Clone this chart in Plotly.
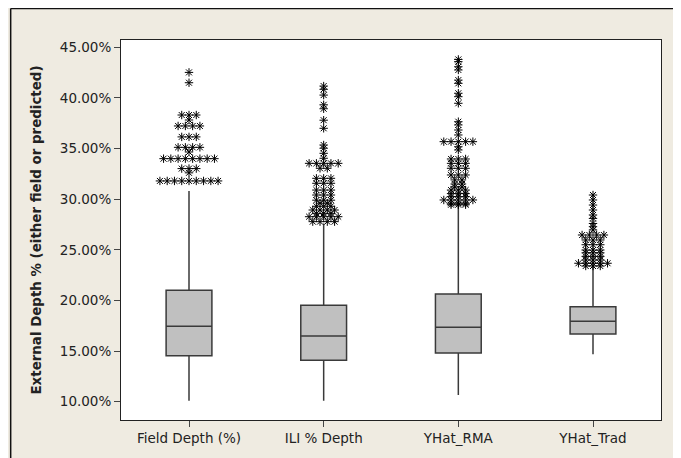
import plotly.graph_objects as go
from collections import OrderedDict

categories = ["Field Depth (%)", "ILI % Depth", "YHat_RMA", "YHat_Trad"]
q1 = [14.54, 14.09, 14.81, 16.69]
median = [17.45, 16.49, 17.35, 17.94]
q3 = [21.00, 19.52, 20.64, 19.38]
lower_whisker = [10.10, 10.10, 10.66, 14.68]
upper_whisker = [30.80, 27.60, 29.40, 23.30]

field_outliers = [42.52, 41.50] + [38.31] * 3 + [37.82] + [37.23] * 4 + [36.15] * 3 + \
    [35.12] * 4 + [34.66] + [34.00] * 8 + [33.02] * 3 + [32.60] + [31.80] * 9
ili_outliers = [41.17, 40.85, 40.28, 39.32, 38.93, 37.80, 37.00, 35.35, 35.03, 34.53, 34.04] + \
    [33.54] * 5 + [33.05] * 2 + [32.06] * 3 + [31.57] * 3 + [30.90] * 3 + [30.41] * 3 + \
    [29.90] * 3 + [29.60] * 2 + [29.30] * 3 + [28.93] * 4 + [28.60] * 3 + [28.27] * 5 + [27.78] * 4
rma_outliers = [43.80, 43.58, 43.08, 42.76, 41.76, 41.44, 40.46, 40.12, 39.47, 37.65, 37.33,
                36.83, 36.34] + [35.68] * 5 + [35.18, 34.86] + [33.97] * 3 + [33.54] * 3 + \
    [33.05] * 3 + [32.39] * 3 + [31.90] * 2 + [31.50] * 2 + [31.20] * 2 + [30.90] * 3 + \
    [30.55] * 3 + [30.25] * 3 + [29.92] * 5 + [29.60] * 3 + [29.45] * 3
trad_outliers = [30.41, 29.92, 29.42, 28.93, 28.44, 28.10, 27.60, 27.28, 26.96] + [26.46] * 4 + \
    [25.97] * 3 + [25.50] * 3 + [24.98] * 3 + [24.70] * 3 + [24.35] * 3 + [24.00] * 3 + \
    [23.67] * 5 + [23.40] * 3
outliers = [field_outliers, ili_outliers, rma_outliers, trad_outliers]

y_ticks = [10, 15, 20, 25, 30, 35, 40, 45]

fig = go.Figure()
for i, name in enumerate(categories):
    fig.add_trace(go.Box(
        x=[i], q1=[q1[i]], median=[median[i]], q3=[q3[i]],
        lowerfence=[lower_whisker[i]], upperfence=[upper_whisker[i]],
        fillcolor="#C0C0C0", line=dict(color="#3a3a3a", width=1.5),
        whiskerwidth=0, width=0.34, boxpoints=False, name=name, showlegend=False))

dx = 0.054
for i, vals in enumerate(outliers):
    counts = OrderedDict()
    for v in vals:
        counts[v] = counts.get(v, 0) + 1
    xs, ys = [], []
    for v, n in counts.items():
        for k in range(n):
            xs.append(i + (k - (n - 1) / 2) * dx)
            ys.append(v)
    fig.add_trace(go.Scatter(
        x=xs, y=ys, mode="markers", showlegend=False,
        marker=dict(symbol="asterisk-open", size=7, color="black",
                    line=dict(color="black", width=1))))

axis_common = dict(showgrid=False, zeroline=False, showline=True, mirror=True,
                   linecolor="#222", linewidth=1, ticks="outside", ticklen=6,
                   tickcolor="#444")
fig.update_xaxes(range=[-0.505, 3.505], tickvals=list(range(4)), ticktext=categories,
                 **axis_common)
fig.update_yaxes(range=[8.19, 45.72], tickvals=y_ticks,
                 ticktext=[f"{t:.2f}%" for t in y_ticks],
                 title=dict(text="<b>External Depth % (either field or predicted)</b>",
                            font=dict(size=13.4)),
                 **axis_common)

# page has an 8px body margin; figure sized so it ends at the window edge
fig.update_layout(
    width=673, height=450,
    margin=dict(l=113, r=20, t=32, b=38),
    paper_bgcolor="#EFEBE1", plot_bgcolor="white",
    font=dict(family="DejaVu Sans", size=13.5, color="#222"),
    shapes=[
        dict(type="line", xref="paper", yref="paper", x0=-0.2043, x1=-0.2043, y0=1.083, y1=-0.2,
             line=dict(color="#111", width=1.5)),
        dict(type="line", xref="paper", yref="paper", x0=-0.2043, x1=1.1, y0=1.083, y1=1.083,
             line=dict(color="#111", width=1.5)),
    ],
)

fig.write_html("out.html")
